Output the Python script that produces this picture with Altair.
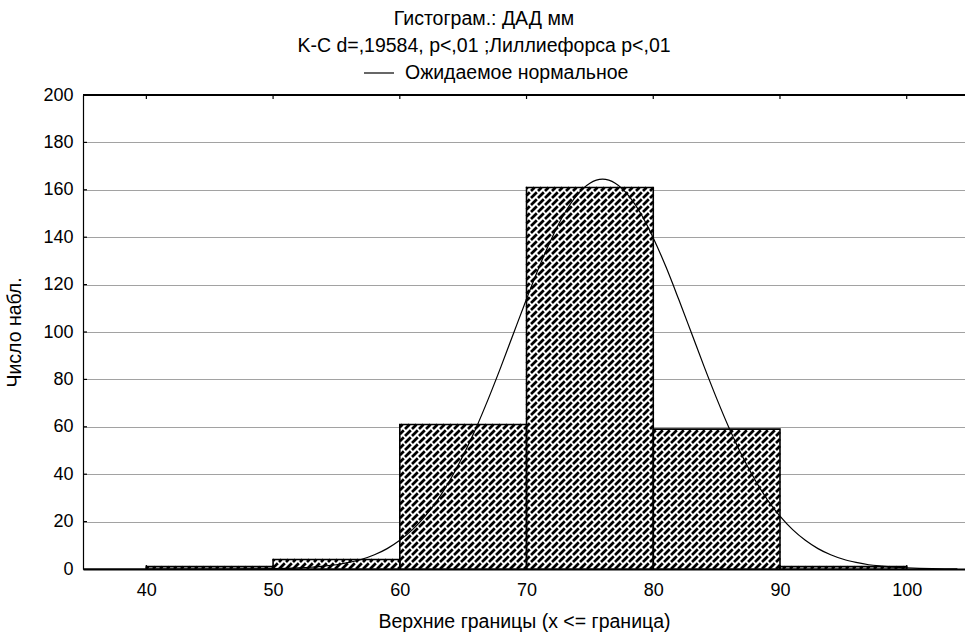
import altair as alt
import pandas as pd

# Histogram bins (upper bounds) and observed counts
bin_lo = [40, 50, 60, 70, 80, 90]
bin_hi = [50, 60, 70, 80, 90, 100]
counts = [1, 4, 61, 161, 59, 1]

# Expected normal curve, sampled at each unit of x
curve_x = list(range(35, 105))
curve_y = [
    0.0, 0.0, 0.0, 0.0, 0.0, 0.0, 0.0, 0.0, 0.0, 0.0,          # 35-44
    0.0, 0.0, 0.0, 0.05, 0.1, 0.17, 0.28, 0.46, 0.74, 1.2,     # 45-54
    1.8, 2.8, 4.1, 6.0, 8.6, 12.1, 16.6, 22.3, 29.3, 37.9,     # 55-64
    47.9, 59.3, 72.0, 85.6, 99.8, 113.9, 127.5, 139.7, 150.1, 157.9,  # 65-74
    162.8, 164.5, 162.8, 157.9, 150.1, 139.7, 127.5, 113.9, 99.8, 85.6,  # 75-84
    72.0, 59.3, 47.9, 37.9, 29.3, 22.3, 16.6, 12.1, 8.6, 6.0,  # 85-94
    4.1, 2.8, 1.8, 1.2, 0.74, 0.46, 0.28, 0.17, 0.1, 0.05,     # 95-104
]

x_ticks = [40, 50, 60, 70, 80, 90, 100]
y_ticks = [0, 20, 40, 60, 80, 100, 120, 140, 160, 180, 200]

X_MIN, X_MAX = 35, 104.6
Y_MIN, Y_MAX = 0, 200
W, H = 882, 474
FONT = "Liberation Sans"
FS_TICK = 18
FS_TEXT = 19.5
X_TITLE = "Верхние границы (x <= граница)"
Y_TITLE = "Число набл."

bars = pd.DataFrame({"x": bin_lo, "x2": bin_hi, "y": counts, "y2": 0})
curve = pd.DataFrame({"x": curve_x, "y": curve_y, "series": "Ожидаемое нормальное"})

# Hatch fill: a lattice of short "/" strokes clipped to every bar
sx = W / (X_MAX - X_MIN)
sy = H / (Y_MAX - Y_MIN)
STEP, LEN = 7.0, 5.8
segs = []
for lo, hi, c in zip(bin_lo, bin_hi, counts):
    X0, X1, HT = (lo - X_MIN) * sx, (hi - X_MIN) * sx, c * sy
    i0, i1 = int((X0 - LEN) // STEP) - 1, int(X1 // STEP) + 1
    j0, j1 = -2, int(HT // STEP) + 1
    for i in range(i0, i1 + 1):
        for j in range(j0, j1 + 1):
            px, py = i * STEP, j * STEP
            t0 = max(0.0, X0 - px, -py)
            t1 = min(LEN, X1 - px, HT - py)
            if t1 - t0 > 0.4:
                segs.append({
                    "x": X_MIN + (px + t0) / sx, "y": (py + t0) / sy,
                    "x2": X_MIN + (px + t1) / sx, "y2": (py + t1) / sy,
                })
hatch = pd.DataFrame(segs)

xs = alt.Scale(domain=[X_MIN, X_MAX], nice=False, zero=False)
ys = alt.Scale(domain=[Y_MIN, Y_MAX], nice=False)


def X(**kw):
    return alt.X("x:Q", scale=xs, title=X_TITLE, **kw)


def Y(**kw):
    return alt.Y("y:Q", scale=ys, title=Y_TITLE, **kw)


x_axis = alt.Axis(
    values=x_ticks, grid=False, ticks=False, labelPadding=12,
    domainColor="black", domainWidth=2, titlePadding=13,
)
y_axis = alt.Axis(
    values=y_ticks, grid=True, gridColor="#444", gridDash=[1, 1], gridWidth=1,
    ticks=False, labelPadding=10, domainColor="black", domainWidth=1.2,
    titlePadding=18,
)

frame = alt.Chart(bars).mark_rect(fill="white", stroke=None).encode(
    x=X(axis=x_axis), x2="x2:Q", y=Y(axis=y_axis), y2="y2:Q",
)

xt = pd.DataFrame({"x": x_ticks})
yt = pd.DataFrame({"y": y_ticks[1:-1]})

top_ticks = alt.Chart(xt).mark_rule(color="black", strokeWidth=1.2).encode(
    x=X(), y=alt.value(0), y2=alt.value(4)
)
bottom_ticks = alt.Chart(xt).mark_rule(color="black", strokeWidth=1.2).encode(
    x=X(), y=alt.value(H), y2=alt.value(H - 4)
)
left_ticks = alt.Chart(yt).mark_rule(color="black", strokeWidth=1.2).encode(
    y=Y(), x=alt.value(0), x2=alt.value(4)
)
top_line = alt.Chart(xt).mark_rule(color="black", strokeWidth=1.6).encode(
    x=alt.value(0), x2=alt.value(W), y=alt.value(0)
)

hatch_layer = alt.Chart(hatch).mark_rule(
    color="black", strokeWidth=2.7, strokeCap="butt"
).encode(x=X(), x2="x2:Q", y=Y(), y2="y2:Q")

outline = alt.Chart(bars).mark_rect(
    fillOpacity=0, stroke="black", strokeWidth=1.6
).encode(x=X(), x2="x2:Q", y=Y(), y2="y2:Q")

line = alt.Chart(curve).mark_line(
    strokeWidth=1.2, interpolate="monotone"
).encode(
    x=X(),
    y=Y(),
    color=alt.Color(
        "series:N",
        scale=alt.Scale(range=["black"]),
        legend=alt.Legend(
            title=None, orient="none", legendX=280, legendY=-38,
            symbolType="stroke", symbolSize=900, symbolStrokeWidth=1.2,
            labelFont=FONT, labelFontSize=FS_TEXT, labelColor="black",
            labelOffset=10, labelLimit=500, padding=0,
        ),
    ),
)

chart = alt.layer(
    frame, bottom_ticks, left_ticks, hatch_layer, outline, line, top_line, top_ticks
).properties(
    width=W, height=H,
    title=alt.TitleParams(
        text=["Гистограм.: ДАД мм", "K-C d=,19584, p<,01 ;Лиллиефорса p<,01"],
        anchor="middle", dx=-40, offset=1, lineHeight=27,
        font=FONT, fontSize=FS_TEXT, fontWeight="normal", color="black",
    ),
    autosize=alt.AutoSizeParams(type="none"),
    padding={"left": 83, "top": 95, "right": 0, "bottom": 71},
).configure_view(
    stroke=None
).configure_axis(
    labelFont=FONT, labelFontSize=FS_TICK, labelColor="black",
    titleFont=FONT, titleFontSize=FS_TEXT, titleFontWeight="normal", titleColor="black",
)

chart.save("out.html", embed_options={"renderer": "svg", "actions": False})
